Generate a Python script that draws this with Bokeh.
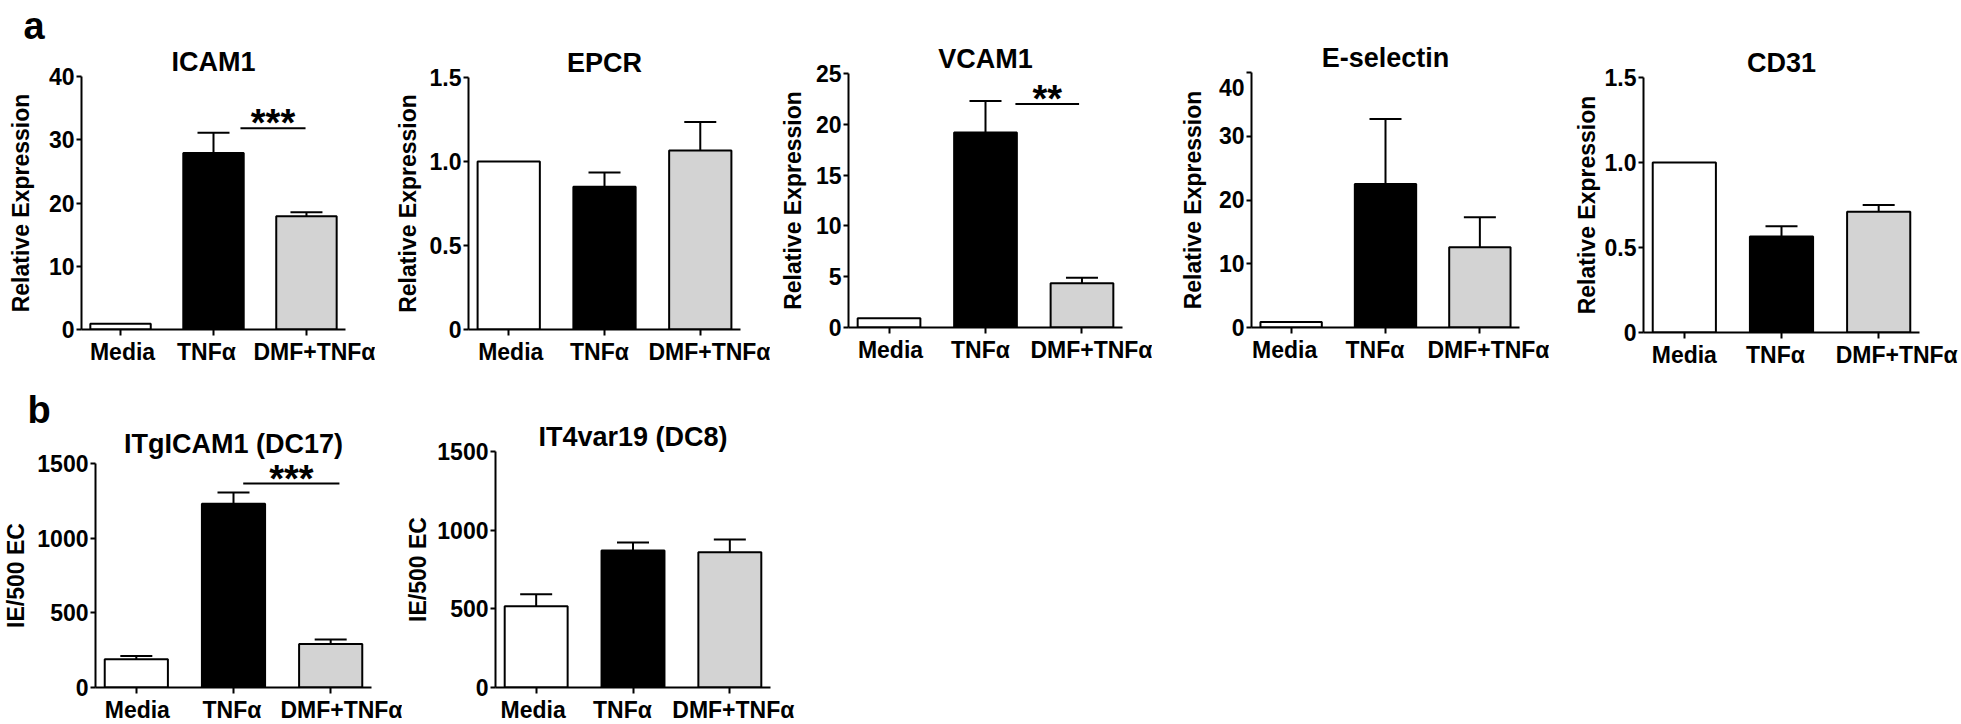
from bokeh.plotting import figure
from bokeh.layouts import row, column
from bokeh.models import FixedTicker, Range1d, TeeHead, Whisker, ColumnDataSource, Title
from bokeh.embed import file_html
from bokeh.resources import INLINE
from bokeh.core.properties import value

# ---------------- data ----------------
categories = ["Media", "TNFα", "DMF+TNFα"]
x_pos = [1, 2, 3]
bar_colors = ["white", "black", "#d3d3d3"]

icam1_mean = [0.9, 27.9, 17.9]
icam1_err = [0.0, 3.2, 0.65]
epcr_mean = [1.0, 0.85, 1.065]
epcr_err = [0.0, 0.085, 0.17]
vcam1_mean = [0.9, 19.2, 4.35]
vcam1_err = [0.0, 3.1, 0.55]
esel_mean = [0.85, 22.5, 12.6]
esel_err = [0.0, 10.2, 4.7]
cd31_mean = [1.0, 0.565, 0.71]
cd31_err = [0.0, 0.06, 0.04]
itg_mean = [190, 1230, 291]
itg_err = [21, 76, 30]
it4_mean = [517, 870, 860]
it4_err = [76, 52, 80]

ticks_40 = [0, 10, 20, 30, 40]
ticks_15 = [0, 0.5, 1.0, 1.5]
ticks_25 = [0, 5, 10, 15, 20, 25]
ticks_1500 = [0, 500, 1000, 1500]
labels_15 = {0: "0", 0.5: "0.5", 1: "1.0", 1.5: "1.5"}
labels_esel = {40: "\n40"}

# significance bars: (x start, x end, y level, stars)
icam1_sig = (2.29, 2.99, 31.8, "***")
vcam1_sig = (2.31, 2.97, 22.0, "**")
itg_sig = (2.10, 3.09, 1366, "***")

FONT = "Liberation Sans"
X_START, X_END = 0.58, 3.42


def make_panel(title, means, errs, ymax, yticks, ylabel, geo, label_shift_px,
               sig=None, ylabel_standoff=12, title_standoff=0, ytick_overrides=None,
               letter=None, letter_offset=0, letter_standoff=0):
    fl, fw, fr, ft, fh, fb = geo
    p = figure(frame_width=fw, frame_height=fh,
               min_border_left=fl, min_border_right=fr,
               min_border_top=ft, min_border_bottom=fb,
               x_range=Range1d(X_START, X_END), y_range=Range1d(0, ymax),
               output_backend="svg", toolbar_location=None,
               title=letter)
    p.outline_line_color = None
    p.grid.visible = False
    p.background_fill_color = "white"
    p.border_fill_color = "white"

    src = ColumnDataSource(dict(x=x_pos, top=means, color=bar_colors))
    p.vbar(x="x", top="top", bottom=0, width=0.65, fill_color="color",
           line_color="black", line_width=2, source=src)

    ex = [x for x, e in zip(x_pos, errs) if e > 0]
    lo = [m for m, e in zip(means, errs) if e > 0]
    hi = [m + e for m, e in zip(means, errs) if e > 0]
    esrc = ColumnDataSource(dict(x=ex, lower=lo, upper=hi))
    w = Whisker(source=esrc, base="x", lower="lower", upper="upper",
                dimension="height", line_color="black", line_width=2,
                upper_head=TeeHead(size=32, line_width=2, line_color="black"),
                lower_head=None)
    p.add_layout(w)

    if sig is not None:
        x0, x1, yl, stars = sig
        p.segment(x0=[x0], y0=[yl], x1=[x1], y1=[yl], line_color="black", line_width=2)
        p.text(x=[(x0 + x1) / 2], y=[yl], text=[stars], text_align="center",
               text_baseline="alphabetic", y_offset=-5,
               text_font=value(FONT), text_font_style="bold", text_font_size="38px",
               text_color="black")

    # outer title slot: panel letter
    if letter:
        p.title.align = "left"
        p.title.offset = letter_offset
        p.title.standoff = letter_standoff
        p.title.text_font = FONT
        p.title.text_font_size = "38px"
        p.title.text_font_style = "bold"
        p.title.text_color = "black"

    # panel title, nearest the frame
    p.add_layout(Title(text=title, align="center", standoff=title_standoff,
                       text_font=FONT, text_font_size="27px", text_font_style="bold",
                       text_color="black"), "above")

    for ax in (p.xaxis[0], p.yaxis[0]):
        ax.axis_line_width = 2
        ax.axis_line_color = "black"
        ax.major_tick_line_width = 2
        ax.major_tick_line_color = "black"
        ax.major_tick_in = 0
        ax.major_label_text_font = FONT
        ax.major_label_text_font_size = "23px"
        ax.major_label_text_font_style = "bold"
        ax.major_label_text_color = "black"

    # x axis: tick marks (minor ticks) at the bars, labels (major ticks) slightly shifted
    px_per_unit = fw / (X_END - X_START)
    label_ticks = [x + s / px_per_unit for x, s in zip(x_pos, label_shift_px)]
    xa = p.xaxis[0]
    xa.ticker = FixedTicker(ticks=label_ticks, minor_ticks=x_pos)
    xa.major_label_overrides = {t: c for t, c in zip(label_ticks, categories)}
    xa.major_tick_line_color = None
    xa.major_tick_out = 0
    xa.minor_tick_line_color = "black"
    xa.minor_tick_line_width = 2
    xa.minor_tick_out = 6
    xa.minor_tick_in = 0
    xa.major_label_standoff = 3

    ya = p.yaxis[0]
    ya.minor_tick_line_color = None
    ya.ticker = FixedTicker(ticks=yticks)
    if ytick_overrides:
        ya.major_label_overrides = ytick_overrides
    ya.major_tick_out = 5
    ya.major_label_standoff = 2
    ya.axis_label = ylabel
    ya.axis_label_text_font = FONT
    ya.axis_label_text_font_size = "23px"
    ya.axis_label_text_font_style = "bold"
    ya.axis_label_text_color = "black"
    ya.axis_label_standoff = ylabel_standoff
    return p


RE = "Relative Expression"
IE = "IE/500 EC"

# geo = (min_border_left, frame_width, min_border_right, min_border_top, frame_height, min_border_bottom)
f1 = make_panel("ICAM1", icam1_mean, icam1_err, 40, ticks_40, RE,
                (81, 264, 30, 76, 253, 40), [2, -7, 13], sig=icam1_sig,
                ylabel_standoff=12, letter="a", letter_offset=-58, letter_standoff=-4)
f2 = make_panel("EPCR", epcr_mean, epcr_err, 1.5, ticks_15, RE,
                (93, 272, 30, 77, 252, 40), [2, -5, 10],
                ylabel_standoff=6, ytick_overrides=labels_15)
f3 = make_panel("VCAM1", vcam1_mean, vcam1_err, 25, ticks_25, RE,
                (78, 274, 30, 73, 254, 40), [1.5, -5, 23], sig=vcam1_sig,
                ylabel_standoff=7)
f4 = make_panel("E-selectin", esel_mean, esel_err, 40, ticks_40, RE,
                (99, 268, 30, 72, 255, 40), [-6.5, -10.5, 19], ylabel_standoff=10,
                ytick_overrides=labels_esel)
f5 = make_panel("CD31", cd31_mean, cd31_err, 1.5, ticks_15, RE,
                (94, 276, 42, 77, 255, 38), [0, -6, 18], ylabel_standoff=2,
                ytick_overrides=labels_15)

f6 = make_panel("ITgICAM1 (DC17)", itg_mean, itg_err, 1500, ticks_1500, IE,
                (91, 276, 31, 93, 224, 33), [1, -1.5, 20], sig=itg_sig,
                ylabel_standoff=5, title_standoff=10,
                letter="b", letter_offset=-68, letter_standoff=-18)
f7 = make_panel("IT4var19 (DC8)", it4_mean, it4_err, 1500, ticks_1500, IE,
                (90, 275, 30, 81, 236, 33), [-3, -10.5, 3.5], ylabel_standoff=3)

layout = column(
    row(column(f1), column(f2), column(f3), column(f4), column(f5)),
    row(column(f6), column(f7)),
)
open("out.html", "w").write(file_html(layout, INLINE))
